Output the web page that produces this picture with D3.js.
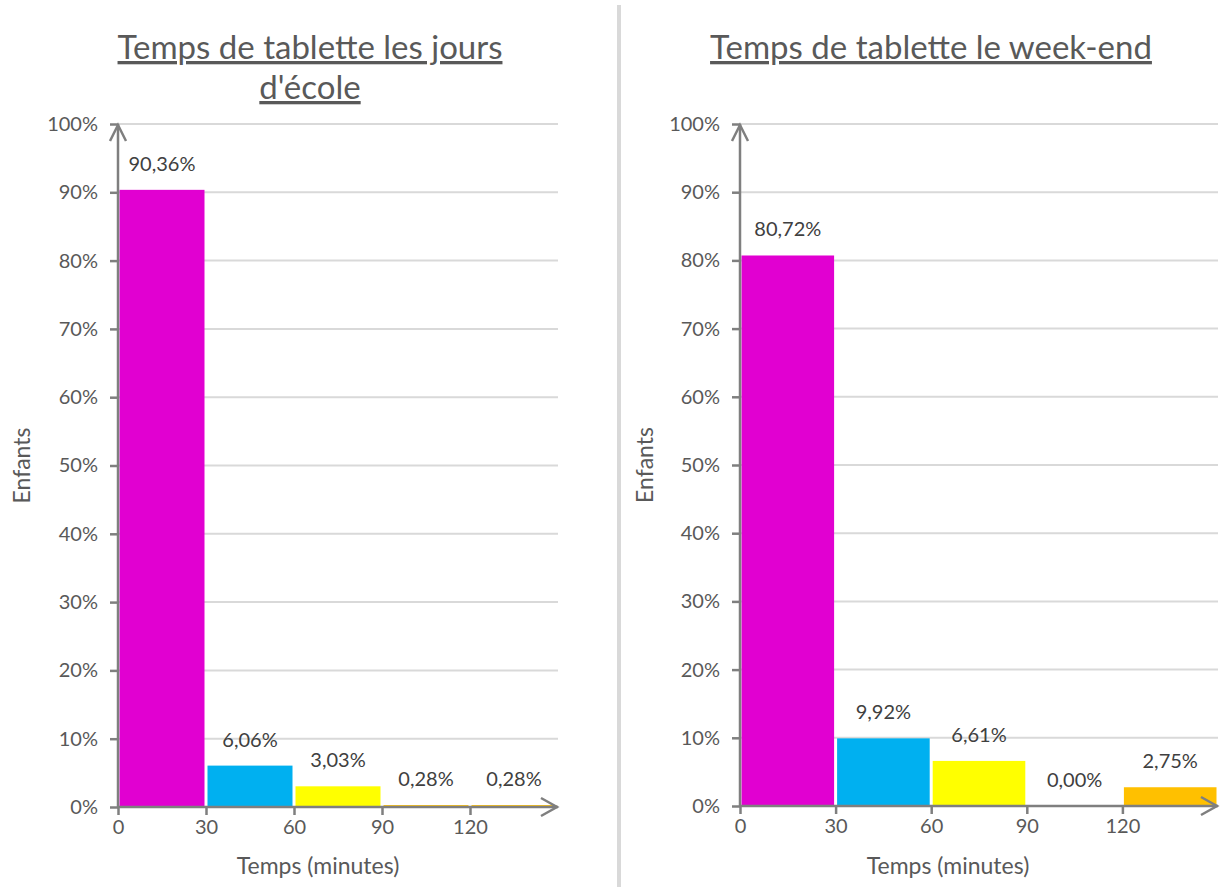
<!DOCTYPE html>
<html>
<head>
<meta charset="utf-8">
<script src="https://cdn.jsdelivr.net/npm/d3@7"></script>
<style>
  html, body { margin: 0; padding: 0; background: #fff; }
  svg { display: block; }
  text { font-family: Lato, "Open Sans", sans-serif; }
</style>
</head>
<body>
<svg id="chart" width="1221" height="887"></svg>
<script>
// ---- Data ----
const binEdges = [0, 30, 60, 90, 120, 150];
const schoolValues = [90.36, 6.06, 3.03, 0.28, 0.28];
const weekendValues = [80.72, 9.92, 6.61, 0.00, 2.75];
const barColors = ["#E100D1", "#00B0F0", "#FFFF00", "#FFC000", "#FFC000"];
const yTicks = [0, 10, 20, 30, 40, 50, 60, 70, 80, 90, 100];
const xTicks = [0, 30, 60, 90, 120];
const schoolTitle = ["Temps de tablette les jours", "d'école"];
const weekendTitle = ["Temps de tablette le week-end"];
const yLabel = "Enfants";
const xLabel = "Temps (minutes)";

const fmtPct = v => v.toFixed(2).replace(".", ",") + "%";

const svg = d3.select("#chart");

// divider
svg.append("line")
  .attr("x1", 619).attr("x2", 619).attr("y1", 5).attr("y2", 887)
  .attr("stroke", "#d9d9d9").attr("stroke-width", 4);

function drawChart(cfg) {
  const g = svg.append("g");
  const x = d3.scaleLinear().domain([0, 150]).range([cfg.x0, cfg.x1]);
  const y = d3.scaleLinear().domain([0, 100]).range([cfg.y0, cfg.y1]);
  const axisColor = "#7f7f7f";
  const textColor = "#595959";

  // title
  cfg.title.forEach((line, i) => {
    g.append("text")
      .attr("x", cfg.titleX).attr("y", 59 + i * 40)
      .attr("text-anchor", "middle")
      .attr("font-size", 33)
      .attr("fill", textColor)
      .attr("text-decoration", "underline")
      .text(line);
  });

  // gridlines
  g.append("g").selectAll("line").data(yTicks.filter(d => d > 0)).join("line")
    .attr("x1", x(0)).attr("x2", x(150))
    .attr("y1", d => y(d)).attr("y2", d => y(d))
    .attr("stroke", "#d9d9d9").attr("stroke-width", 2);

  // bars
  const bins = cfg.values.map((v, i) => ({ start: binEdges[i], end: binEdges[i + 1], v, c: barColors[i] }));
  g.append("g").selectAll("rect").data(bins).join("rect")
    .attr("x", d => x(d.start) + 1.5)
    .attr("width", d => x(d.end) - x(d.start) - 3)
    .attr("y", d => y(d.v))
    .attr("height", d => y(0) - y(d.v))
    .attr("fill", d => d.c);

  // data labels
  g.append("g").selectAll("text").data(bins).join("text")
    .attr("x", d => (x(d.start) + x(d.end)) / 2)
    .attr("y", d => y(d.v) - 19)
    .attr("text-anchor", "middle")
    .attr("font-size", 20)
    .attr("fill", "#404040")
    .text(d => fmtPct(d.v));

  // y axis
  const yAxis = d3.axisLeft(y).tickValues(yTicks).tickFormat(d => d + "%").tickSize(8).tickPadding(12);
  const ya = g.append("g").attr("transform", `translate(${x(0)},0)`).call(yAxis);
  ya.select(".domain").remove();
  ya.selectAll(".tick line").attr("stroke", axisColor).attr("stroke-width", 2.5);
  ya.selectAll(".tick text").attr("font-size", 20).attr("fill", textColor)
    .attr("font-family", "Lato, sans-serif");

  // x axis
  const xAxis = d3.axisBottom(x).tickValues(xTicks).tickSize(8).tickPadding(5);
  const xa = g.append("g").attr("transform", `translate(0,${y(0)})`).call(xAxis);
  xa.select(".domain").remove();
  xa.selectAll(".tick line").attr("stroke", axisColor).attr("stroke-width", 2.5);
  xa.selectAll(".tick text").attr("font-size", 20).attr("fill", textColor)
    .attr("font-family", "Lato, sans-serif");

  // axis lines with arrows
  g.append("line").attr("x1", x(0)).attr("x2", x(0)).attr("y1", y(0) + 1).attr("y2", y(100))
    .attr("stroke", axisColor).attr("stroke-width", 2.5);
  g.append("line").attr("x1", x(0) - 1).attr("x2", x(150)).attr("y1", y(0)).attr("y2", y(0))
    .attr("stroke", axisColor).attr("stroke-width", 2.5);
  g.append("path")
    .attr("d", `M${x(0) - 8},${y(100) + 17} L${x(0)},${y(100) + 1} L${x(0) + 8},${y(100) + 17}`)
    .attr("fill", "none").attr("stroke", axisColor).attr("stroke-width", 2.5);
  g.append("path")
    .attr("d", `M${x(150) - 17},${y(0) - 9} L${x(150) - 1},${y(0)} L${x(150) - 17},${y(0) + 9}`)
    .attr("fill", "none").attr("stroke", axisColor).attr("stroke-width", 2.5);

  // axis titles
  g.append("text")
    .attr("transform", `translate(${cfg.yLabelX},${(y(0) + y(100)) / 2}) rotate(-90)`)
    .attr("text-anchor", "middle").attr("dy", "0.35em")
    .attr("font-size", 23).attr("fill", textColor)
    .text(yLabel);
  g.append("text")
    .attr("x", cfg.xLabelX).attr("y", 874)
    .attr("text-anchor", "middle")
    .attr("font-size", 23).attr("fill", textColor)
    .text(xLabel);
}

drawChart({ values: schoolValues, title: schoolTitle, titleX: 310,
  x0: 118, x1: 558, y0: 807, y1: 124, yLabelX: 22, xLabelX: 318 });
drawChart({ values: weekendValues, title: weekendTitle, titleX: 931,
  x0: 740, x1: 1218, y0: 806, y1: 124, yLabelX: 645, xLabelX: 948 });
</script>
</body>
</html>
